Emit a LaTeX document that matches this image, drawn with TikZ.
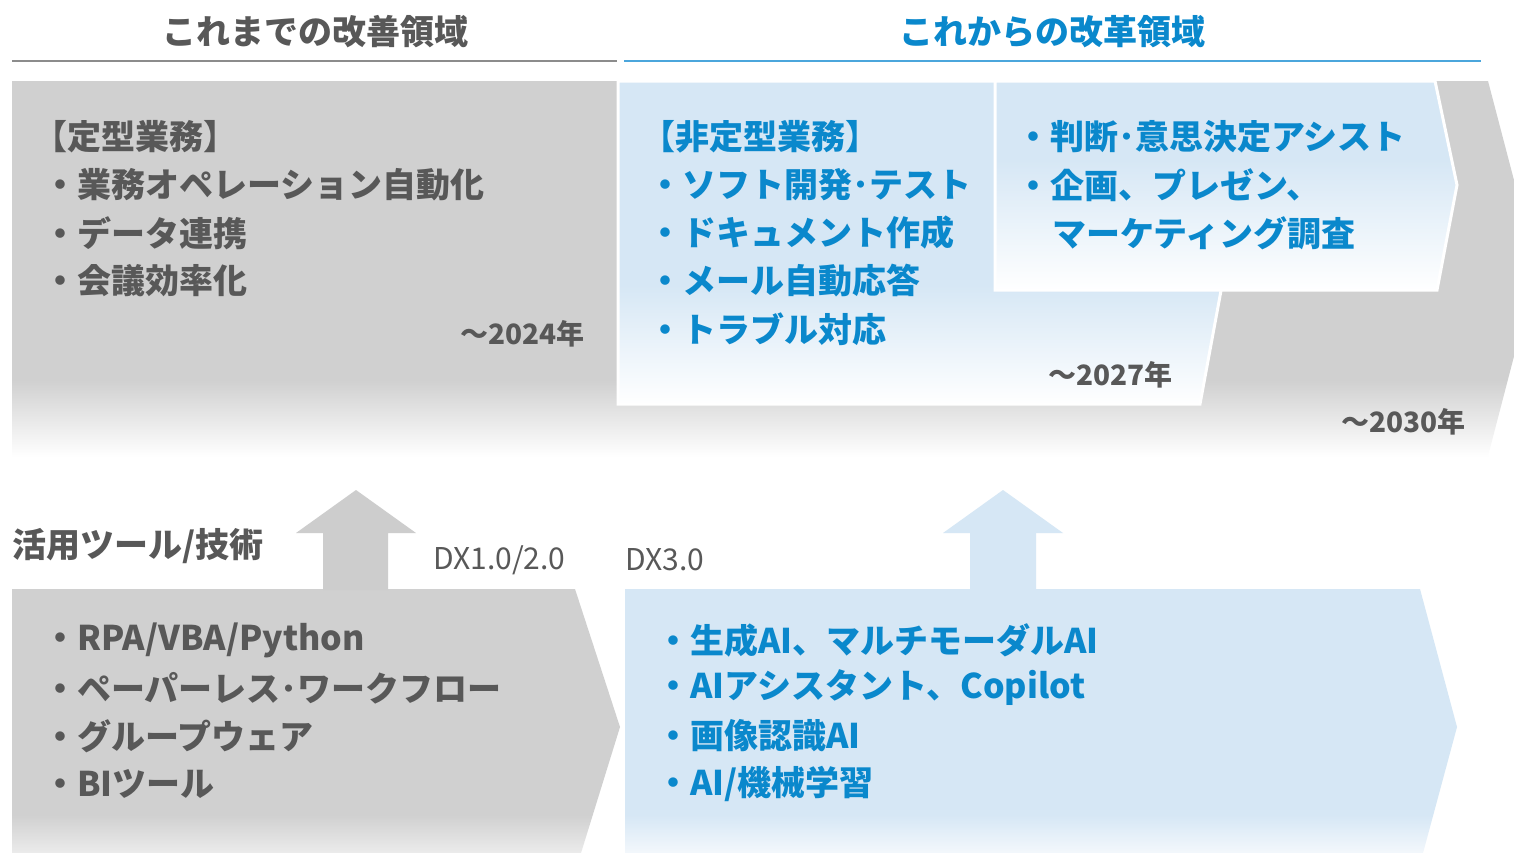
\documentclass[tikz,border=0pt]{standalone}
\usepackage{fontspec}
\setmainfont{Noto Sans CJK JP}
\definecolor{tgray}{HTML}{585858}
\definecolor{tblue}{HTML}{0A88CC}
\definecolor{cgray}{HTML}{D0D0D0}
\definecolor{agray}{HTML}{CDCDCD}
\definecolor{lblue}{HTML}{D6E7F5}
\definecolor{paleblue}{HTML}{F4F8FC}
\definecolor{palegray}{HTML}{ECECEC}
\definecolor{lgray}{HTML}{8C8C8C}
\definecolor{lineblue}{HTML}{4BA6DC}
\tikzset{
  jt/.style={inner sep=0pt, anchor=west, font=\fontsize{34}{40}\selectfont\bfseries},
  gt/.style={jt, text=tgray},
  bt/.style={jt, text=tblue},
  yr/.style={inner sep=0pt, anchor=east, text=tgray, font=\fontsize{28}{32}\selectfont\bfseries},
  dx/.style={inner sep=0pt, anchor=west, text=tgray, font=\fontsize{30}{34}\selectfont},
  ttl/.style={inner sep=0pt, font=\fontsize{34}{40}\selectfont\bfseries},
  whiteedge/.style={draw=white, line width=3pt, line join=miter},
}
\begin{document}
\begin{tikzpicture}[x=1pt,y=-1pt]
\useasboundingbox (0,0) rectangle (1514,852);
\fill[white] (0,0) rectangle (1514,852);

% titles
\node[ttl, text=tgray] (t1) at (315,32) {これまでの改善領域};
\node[ttl, text=tblue] (t2) at (1052,32) {これからの改革領域};
\draw[lgray, line width=2pt] (12,61) -- (617,61);
\draw[lineblue, line width=2pt] (624,61) -- (1481,61);

% big gray chevron (~2030)
\begin{scope}
\clip (12,81) -- (1488,81) -- (1537,268) -- (1488,456) -- (12,456) -- cycle;
\fill[cgray] (10,79) rectangle (1540,380);
\shade[top color=cgray, bottom color=white] (10,380) rectangle (1540,457);
\end{scope}

% blue chevron (~2027)
\begin{scope}
\clip (618,81) -- (1200,81) -- (1230,242) -- (1200,404) -- (618,404) -- cycle;
\fill[lblue] (615,79) rectangle (1235,285);
\shade[top color=lblue, bottom color=white] (615,285) rectangle (1235,405);
\end{scope}
\draw[whiteedge] (618,81) -- (1200,81) -- (1230,242) -- (1200,404) -- (618,404) -- cycle;

% upper right box
\begin{scope}
\clip (995,81) -- (1435,81) -- (1457,185) -- (1437,290) -- (995,290) -- cycle;
\fill[lblue] (990,79) rectangle (1460,160);
\shade[top color=lblue, bottom color=white] (990,160) rectangle (1460,291);
\end{scope}
\draw[whiteedge] (995,81) -- (1435,81) -- (1457,185) -- (1437,290) -- (995,290) -- cycle;

% top-left texts
\node[gt] (a0) at (33,137) {【定型業務】};
\node[gt] (a1) at (43,185) {・業務オペレーション自動化};
\node[gt] (a2) at (43,233) {・データ連携};
\node[gt] (a3) at (43,281) {・会議効率化};
\node[yr] (y1) at (585,334) {～2024年};

% middle texts
\node[bt] (b0) at (641,137) {【非定型業務】};
\node[bt] (b1) at (648,185) {・ソフト開発･テスト};
\node[bt] (b2) at (648,233) {・ドキュメント作成};
\node[bt] (b3) at (648,281) {・メール自動応答};
\node[bt] (b4) at (648,329) {・トラブル対応};
\node[yr] (y2) at (1173,375) {～2027年};

% upper-right texts
\node[bt] (c1) at (1016,137) {・判断･意思決定アシスト};
\node[bt] (c2) at (1016,185) {・企画、プレゼン、};
\node[bt] (c3) at (1052,233) {マーケティング調査};
\node[yr] (y3) at (1466,422) {～2030年};

% bottom shapes
\begin{scope}
\clip (12,589) -- (575,589) -- (620,727) -- (581,853) -- (12,853) -- cycle;
\fill[cgray] (10,587) rectangle (625,815);
\shade[top color=cgray, bottom color=palegray] (10,815) rectangle (625,854);
\end{scope}
\begin{scope}
\clip (625,589) -- (1420,589) -- (1457,727) -- (1423,853) -- (625,853) -- cycle;
\fill[lblue] (620,587) rectangle (1460,815);
\shade[top color=lblue, bottom color=paleblue] (620,815) rectangle (1460,854);
\end{scope}

% up arrows
\fill[agray] (323,590) -- (323,533) -- (296,533) -- (356,490) -- (416,533) -- (388,533) -- (388,590) -- cycle;
\fill[lblue] (970,590) -- (970,533) -- (943,533) -- (1003,490) -- (1063,533) -- (1036,533) -- (1036,590) -- cycle;

% bottom labels
\node[gt] (k0) at (12,546) {活用ツール/技術};
\node[dx] (d1) at (433,560) {DX1.0/2.0};
\node[dx] (d2) at (625,560) {DX3.0};

\node[gt] (e1) at (43,640) {・RPA/VBA/Python};
\node[gt] (e2) at (43,688) {・ペーパーレス･ワークフロー};
\node[gt] (e3) at (43,736) {・グループウェア};
\node[gt] (e4) at (43,784) {・BIツール};

\node[bt] (f1) at (656,640) {・生成AI、マルチモーダルAI};
\node[bt] (f2) at (656,688) {・AIアシスタント、Copilot};
\node[bt] (f3) at (656,736) {・画像認識AI};
\node[bt] (f4) at (656,784) {・AI/機械学習};
\end{tikzpicture}
\end{document}
